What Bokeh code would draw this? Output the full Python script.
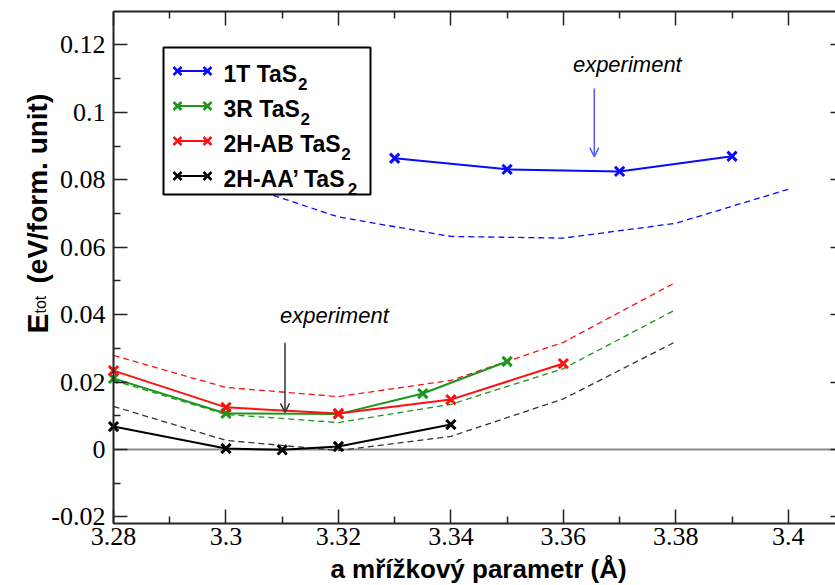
import math
from bokeh.plotting import figure
from bokeh.models import (Range1d, LinearAxis, FixedTicker, CustomJSTickFormatter,
                          Label, Arrow, OpenHead, BoxAnnotation)
from bokeh.embed import file_html
from bokeh.resources import INLINE

# ---------------- data ----------------
x_1t = [3.33, 3.35, 3.37, 3.39]
e_1t = [0.0864, 0.0831, 0.0825, 0.0870]

x_3r = [3.28, 3.30, 3.32, 3.335, 3.35]
e_3r = [0.0211, 0.0107, 0.0105, 0.0166, 0.0261]

x_ab = [3.28, 3.30, 3.32, 3.34, 3.36]
e_ab = [0.0234, 0.0125, 0.0107, 0.0148, 0.0255]

x_aa = [3.28, 3.30, 3.31, 3.32, 3.34]
e_aa = [0.0068, 0.0003, -0.0001, 0.0009, 0.0074]

# dashed (fit) curves
fit_x_1t = [3.30, 3.32, 3.34, 3.36, 3.38, 3.40]
fit_1t = [0.0800, 0.0690, 0.0632, 0.0627, 0.0671, 0.0772]

fit_x = [3.28, 3.30, 3.32, 3.34, 3.36, 3.38]
fit_ab = [0.0279, 0.0184, 0.0157, 0.0205, 0.0318, 0.0496]
fit_3r = [0.0205, 0.0104, 0.0080, 0.0134, 0.0240, 0.0415]
fit_aa = [0.0128, 0.0027, -0.0003, 0.0039, 0.0150, 0.0320]

labels = ["1T TaS", "3R TaS", "2H-AB TaS", "2H-AA\u2019 TaS"]
label_sub = "2"

x_ticks = [3.28, 3.30, 3.32, 3.34, 3.36, 3.38, 3.40]
x_minor = [3.29, 3.31, 3.33, 3.35, 3.37, 3.39]
y_ticks = [-0.02, 0.0, 0.02, 0.04, 0.06, 0.08, 0.10, 0.12]
y_minor = [-0.01, 0.01, 0.03, 0.05, 0.07, 0.09, 0.11]

exp_1t_x = 3.3655
exp_2h_x = 3.3105

BLUE = "#0a0aff"
GREEN = "#1c961c"
RED = "#ff1010"
BLACK = "#000000"

# ---------------- geometry ----------------
W, H = 835, 585
AL, AR, AT, AB = 113, 835, 11, 523      # axis box in canvas px
X0, X1 = 3.28, 3.4084                    # axis limits
Y0, Y1 = -0.02195, 0.12993

kx = (AR - AL) / (X1 - X0)
ky = (AB - AT) / (Y1 - Y0)
xr = Range1d(X0 - AL / kx, X1 + (W - AR) / kx)
yr = Range1d(Y0 - (H - AB) / ky, Y1 + AT / ky)


def sx(cx):
    return cx


def sy(cy):
    return H - cy


p = figure(width=W, height=H, output_backend="svg", toolbar_location=None,
           x_range=xr, y_range=yr, x_axis_location=None, y_axis_location=None,
           min_border=0)
p.outline_line_color = None
p.background_fill_color = "white"
p.border_fill_color = "white"
for g in p.grid:
    g.visible = False

fmt = CustomJSTickFormatter(code="return String(parseFloat(tick.toFixed(6)));")
blank = CustomJSTickFormatter(code="return '';")


def make_axis(ticks, minor, formatter, loc, bounds):
    ax = LinearAxis(ticker=FixedTicker(ticks=ticks, minor_ticks=minor),
                    formatter=formatter, fixed_location=loc, bounds=bounds)
    ax.axis_line_color = "#222222"
    ax.axis_line_width = 2
    ax.major_tick_line_color = "#222222"
    ax.major_tick_line_width = 1.5
    ax.minor_tick_line_color = "#222222"
    ax.minor_tick_line_width = 1.5
    ax.major_tick_in = 14
    ax.major_tick_out = 0
    ax.minor_tick_in = 7
    ax.minor_tick_out = 0
    ax.major_label_text_font = "Times"
    ax.major_label_text_font_size = "26px"
    ax.major_label_text_color = "black"
    return ax


bottom = make_axis(x_ticks, x_minor, fmt, Y0, (X0, X1))
bottom.major_label_standoff = 4
p.add_layout(bottom, "below")

left = make_axis(y_ticks, y_minor, fmt, X0, (Y0, Y1))
left.major_label_standoff = 8
p.add_layout(left, "left")

top = make_axis(x_ticks, x_minor, blank, Y1, (X0, X1))
top.major_label_standoff = 0
p.add_layout(top, "above")

right = make_axis(y_ticks, y_minor, blank, X1, (Y0, Y1))
right.axis_line_color = None
right.major_tick_in = 5
right.minor_tick_in = 0
right.major_label_standoff = 0
p.add_layout(right, "right")

# zero line across the axis box
p.line([X0, X1], [0, 0], line_color="#8a8a8a", line_width=2)

# dashed fits
p.line(fit_x_1t, fit_1t, color=BLUE, line_width=1.3, line_dash="6 4")
p.line(fit_x, fit_ab, color=RED, line_width=1.3, line_dash="6 4")
p.line(fit_x, fit_3r, color=GREEN, line_width=1.3, line_dash="6 4")
p.line(fit_x, fit_aa, color="#333333", line_width=1.3, line_dash="6 4")

# computed series
series = [(x_aa, e_aa, BLACK), (x_3r, e_3r, GREEN), (x_ab, e_ab, RED), (x_1t, e_1t, BLUE)]
for xs, ys, c in series:
    p.line(xs, ys, color=c, line_width=2)
    p.scatter(xs, ys, marker="x", size=13, line_width=3, color=c)

# experiment annotations
p.add_layout(Label(x=3.3617, y=0.1104, text="experiment", text_font="Liberation Sans",
                   text_font_style="italic", text_font_size="22px", text_color="black"))
p.add_layout(Arrow(end=OpenHead(size=9, line_color="#5a5aff", line_width=1.5),
                   x_start=exp_1t_x, y_start=0.1071, x_end=exp_1t_x, y_end=0.0869,
                   line_color="#5a5aff", line_width=1.5))
p.add_layout(Label(x=3.3096, y=0.0359, text="experiment", text_font="Liberation Sans",
                   text_font_style="italic", text_font_size="22px", text_color="black"))
p.add_layout(Arrow(end=OpenHead(size=9, line_color="#333333", line_width=1.5),
                   x_start=exp_2h_x, y_start=0.0317, x_end=exp_2h_x, y_end=0.0110,
                   line_color="#333333", line_width=1.5))

# ---------------- legend (manual) ----------------
p.add_layout(BoxAnnotation(left=sx(163), right=sx(370), top=sy(47), bottom=sy(194),
                           left_units="screen", right_units="screen",
                           top_units="screen", bottom_units="screen",
                           fill_color="white", fill_alpha=1.0,
                           line_color="black", line_alpha=1.0, line_width=2))

colors = [BLUE, GREEN, RED, BLACK]
label_em = [3.279, 3.390, 5.167, 5.445]  # Arial-bold advance widths in em
LFS = 23


def seg(x0, y0, x1, y1, c, w):
    p.add_layout(Arrow(start=None, end=None, x_start=sx(x0), y_start=sy(y0),
                       x_end=sx(x1), y_end=sy(y1), start_units="screen",
                       end_units="screen", line_color=c, line_width=w))


for i, (lab, c, em) in enumerate(zip(labels, colors, label_em)):
    ly = 70.5 + 35 * i
    seg(177, ly, 207, ly, c, 2)
    for mx in (177, 207):
        seg(mx - 4, ly - 4, mx + 4, ly + 4, c, 2.5)
        seg(mx - 4, ly + 4, mx + 4, ly - 4, c, 2.5)
    tx = 223
    base = 73.5 + 35 * i
    p.add_layout(Label(x=sx(tx), y=sy(base), x_units="screen", y_units="screen",
                       text=lab, text_font="Liberation Sans", text_font_style="bold",
                       text_font_size=f"{LFS}px", text_color="black",
                       text_align="left", text_baseline="alphabetic"))
    p.add_layout(Label(x=sx(tx + em * LFS - 1), y=sy(base + 10), x_units="screen",
                       y_units="screen", text=label_sub, text_font="Liberation Sans",
                       text_font_style="bold", text_font_size="17px", text_color="black",
                       text_align="left", text_baseline="alphabetic"))

# ---------------- axis titles (manual, to allow subscript) ----------------
p.add_layout(Label(x=sx(478), y=sy(568), x_units="screen", y_units="screen",
                   text="a mřížkový parametr (Å)", text_font="Liberation Sans",
                   text_font_style="bold", text_font_size="26px", text_color="black",
                   text_align="center", text_baseline="alphabetic"))

p.add_layout(Label(x=sx(37), y=sy(333), x_units="screen", y_units="screen",
                   text="E", angle=math.pi / 2, text_font="Liberation Sans",
                   text_font_style="bold", text_font_size="30px", text_color="black",
                   text_align="left", text_baseline="alphabetic"))
p.add_layout(Label(x=sx(40), y=sy(313), x_units="screen", y_units="screen",
                   text="tot", angle=math.pi / 2, text_font="Liberation Sans",
                   text_font_size="16px", text_color="black",
                   text_align="left", text_baseline="alphabetic"))
p.add_layout(Label(x=sx(37), y=sy(283), x_units="screen", y_units="screen",
                   text="(eV/form. unit)", angle=math.pi / 2, text_font="Liberation Sans",
                   text_font_style="bold", text_font_size="28px", text_color="black",
                   text_align="left", text_baseline="alphabetic"))

open("out.html", "w").write(file_html(p, INLINE))
